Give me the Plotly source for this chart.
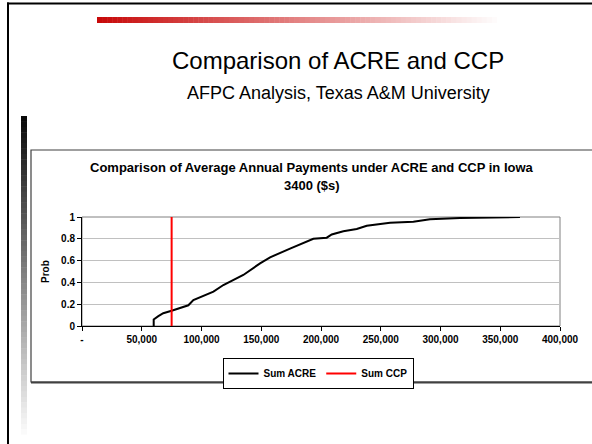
import plotly.graph_objects as go

# ---- data ----
acre_x = [60000, 60000, 63900, 68000, 75000, 82000, 89000, 93200, 98800, 110000,
          118300, 126600, 132200, 135000, 149000, 157400, 174100, 193600, 204800,
          209000, 218700, 229900, 238300, 249400, 257800, 277300, 291200, 316400,
          333000, 366500]
acre_y = [0.0, 0.06, 0.09, 0.117, 0.14, 0.168, 0.19, 0.238, 0.263, 0.315,
          0.376, 0.42, 0.45, 0.468, 0.575, 0.63, 0.71, 0.80, 0.81,
          0.84, 0.87, 0.89, 0.92, 0.935, 0.948, 0.957, 0.98, 0.99,
          0.995, 1.0]
ccp_x = [75000, 75000]
ccp_y = [0.0, 1.0]

x_tickvals = [0, 50000, 100000, 150000, 200000, 250000, 300000, 350000, 400000]
x_ticktext = ["-", "50,000", "100,000", "150,000", "200,000", "250,000",
              "300,000", "350,000", "400,000"]
y_tickvals = [0, 0.2, 0.4, 0.6, 0.8, 1]
y_ticktext = ["0", "0.2", "0.4", "0.6", "0.8", "1"]

FONT = "Liberation Sans, Arial, sans-serif"

# plot area pixel geometry
L, R, T, B = 82, 560, 217, 326
W, H = 592, 444
def X(px):
    return (px - L) / (R - L)
def Y(py):
    return (B - py) / (B - T)

fig = go.Figure()
fig.add_trace(go.Scatter(x=acre_x, y=acre_y, mode="lines", name="Sum ACRE",
                         line=dict(color="black", width=2)))
fig.add_trace(go.Scatter(x=ccp_x, y=ccp_y, mode="lines", name="Sum CCP",
                         line=dict(color="#ff0000", width=2)))

shapes = []
# slide border lines
shapes.append(dict(type="line", xref="paper", yref="paper", x0=X(7), x1=X(600), y0=Y(3.5), y1=Y(3.5),
                   line=dict(color="black", width=2)))
shapes.append(dict(type="line", xref="paper", yref="paper", x0=X(8), x1=X(8), y0=Y(2.5), y1=Y(450),
                   line=dict(color="black", width=2)))
# red gradient bar
n = 80
x0p, x1p = 97, 502
for i in range(n):
    t = i / (n - 1)
    r = int(200 + (255 - 200) * t)
    g = int(10 + (255 - 10) * t)
    b = int(10 + (255 - 10) * t)
    a = x0p + (x1p - x0p) * i / n
    c = x0p + (x1p - x0p) * (i + 1) / n + 0.5
    shapes.append(dict(type="rect", xref="paper", yref="paper", x0=X(a), x1=X(c),
                       y0=Y(17), y1=Y(23), line=dict(width=0),
                       fillcolor=f"rgb({r},{g},{b})"))
# left vertical gradient bar
n = 60
y0p, y1p = 116, 440
for i in range(n):
    t = i / (n - 1)
    v = int(10 + (255 - 10) * t)
    a = y0p + (y1p - y0p) * i / n
    c = y0p + (y1p - y0p) * (i + 1) / n + 0.5
    shapes.append(dict(type="rect", xref="paper", yref="paper", x0=X(21), x1=X(27),
                       y0=Y(a), y1=Y(c), line=dict(width=0),
                       fillcolor=f"rgb({v},{v},{v})"))
# chart area box
shapes.append(dict(type="rect", xref="paper", yref="paper", x0=X(31), x1=X(610), y0=Y(150), y1=Y(382),
                   line=dict(color="#404040", width=1.2)))
shapes.append(dict(type="line", xref="paper", yref="paper", x0=X(31), x1=X(610), y0=Y(382.5), y1=Y(382.5),
                   line=dict(color="#404040", width=2.2)))
# plot area border (top/right grey)
shapes.append(dict(type="rect", xref="paper", yref="paper", x0=0, x1=1, y0=0, y1=1,
                   line=dict(color="#808080", width=1), layer="below"))

annotations = [
    dict(text="Comparison of ACRE and CCP", xref="paper", yref="paper", x=X(338), y=Y(60),
         showarrow=False, xanchor="center", yanchor="middle",
         font=dict(family=FONT, size=24, color="black")),
    dict(text="AFPC Analysis, Texas A&M University", xref="paper", yref="paper", x=X(338), y=Y(93),
         showarrow=False, xanchor="center", yanchor="middle",
         font=dict(family=FONT, size=18, color="black")),
    dict(text="<b>Comparison of Average Annual Payments under ACRE and CCP in Iowa</b>",
         xref="paper", yref="paper", x=X(312), y=Y(167), showarrow=False,
         xanchor="center", yanchor="middle", font=dict(family=FONT, size=13, color="black")),
    dict(text="<b>3400 ($s)</b>", xref="paper", yref="paper", x=X(312), y=Y(185), showarrow=False,
         xanchor="center", yanchor="middle", font=dict(family=FONT, size=13, color="black")),
    dict(text="<b>Prob</b>", xref="paper", yref="paper", x=X(45), y=Y(272), showarrow=False,
         textangle=-90, xanchor="center", yanchor="middle",
         font=dict(family=FONT, size=10, color="black")),
]

fig.update_layout(
    width=W, height=H,
    margin=dict(l=L, r=W - R, t=T, b=H - B, pad=0),
    paper_bgcolor="white", plot_bgcolor="white",
    font=dict(family=FONT, color="black"),
    showlegend=True,
    legend=dict(orientation="h", x=X(318), y=Y(358), xanchor="center", yanchor="top",
                bordercolor="black", borderwidth=1, bgcolor="white",
                font=dict(family=FONT, size=10, color="black", weight="bold"),
                itemwidth=30, tracegroupgap=0),
    shapes=shapes,
    annotations=annotations,
    xaxis=dict(range=[0, 400000], tickvals=x_tickvals, ticktext=x_ticktext,
               showgrid=False, zeroline=False, showline=True, linecolor="black", linewidth=1,
               ticks="outside", ticklen=4, tickcolor="black",
               tickfont=dict(family=FONT, size=10, color="black", weight="bold")),
    yaxis=dict(range=[0, 1], tickvals=y_tickvals, ticktext=y_ticktext,
               showgrid=True, gridcolor="#c0c0c0", gridwidth=1,
               zeroline=False, showline=True, linecolor="black", linewidth=1,
               ticks="outside", ticklen=4, tickcolor="black",
               tickfont=dict(family=FONT, size=10, color="black", weight="bold")),
)

fig.write_html("out.html", config={"displayModeBar": False},
               post_script="document.body.style.margin='0';document.body.style.overflow='hidden';")
